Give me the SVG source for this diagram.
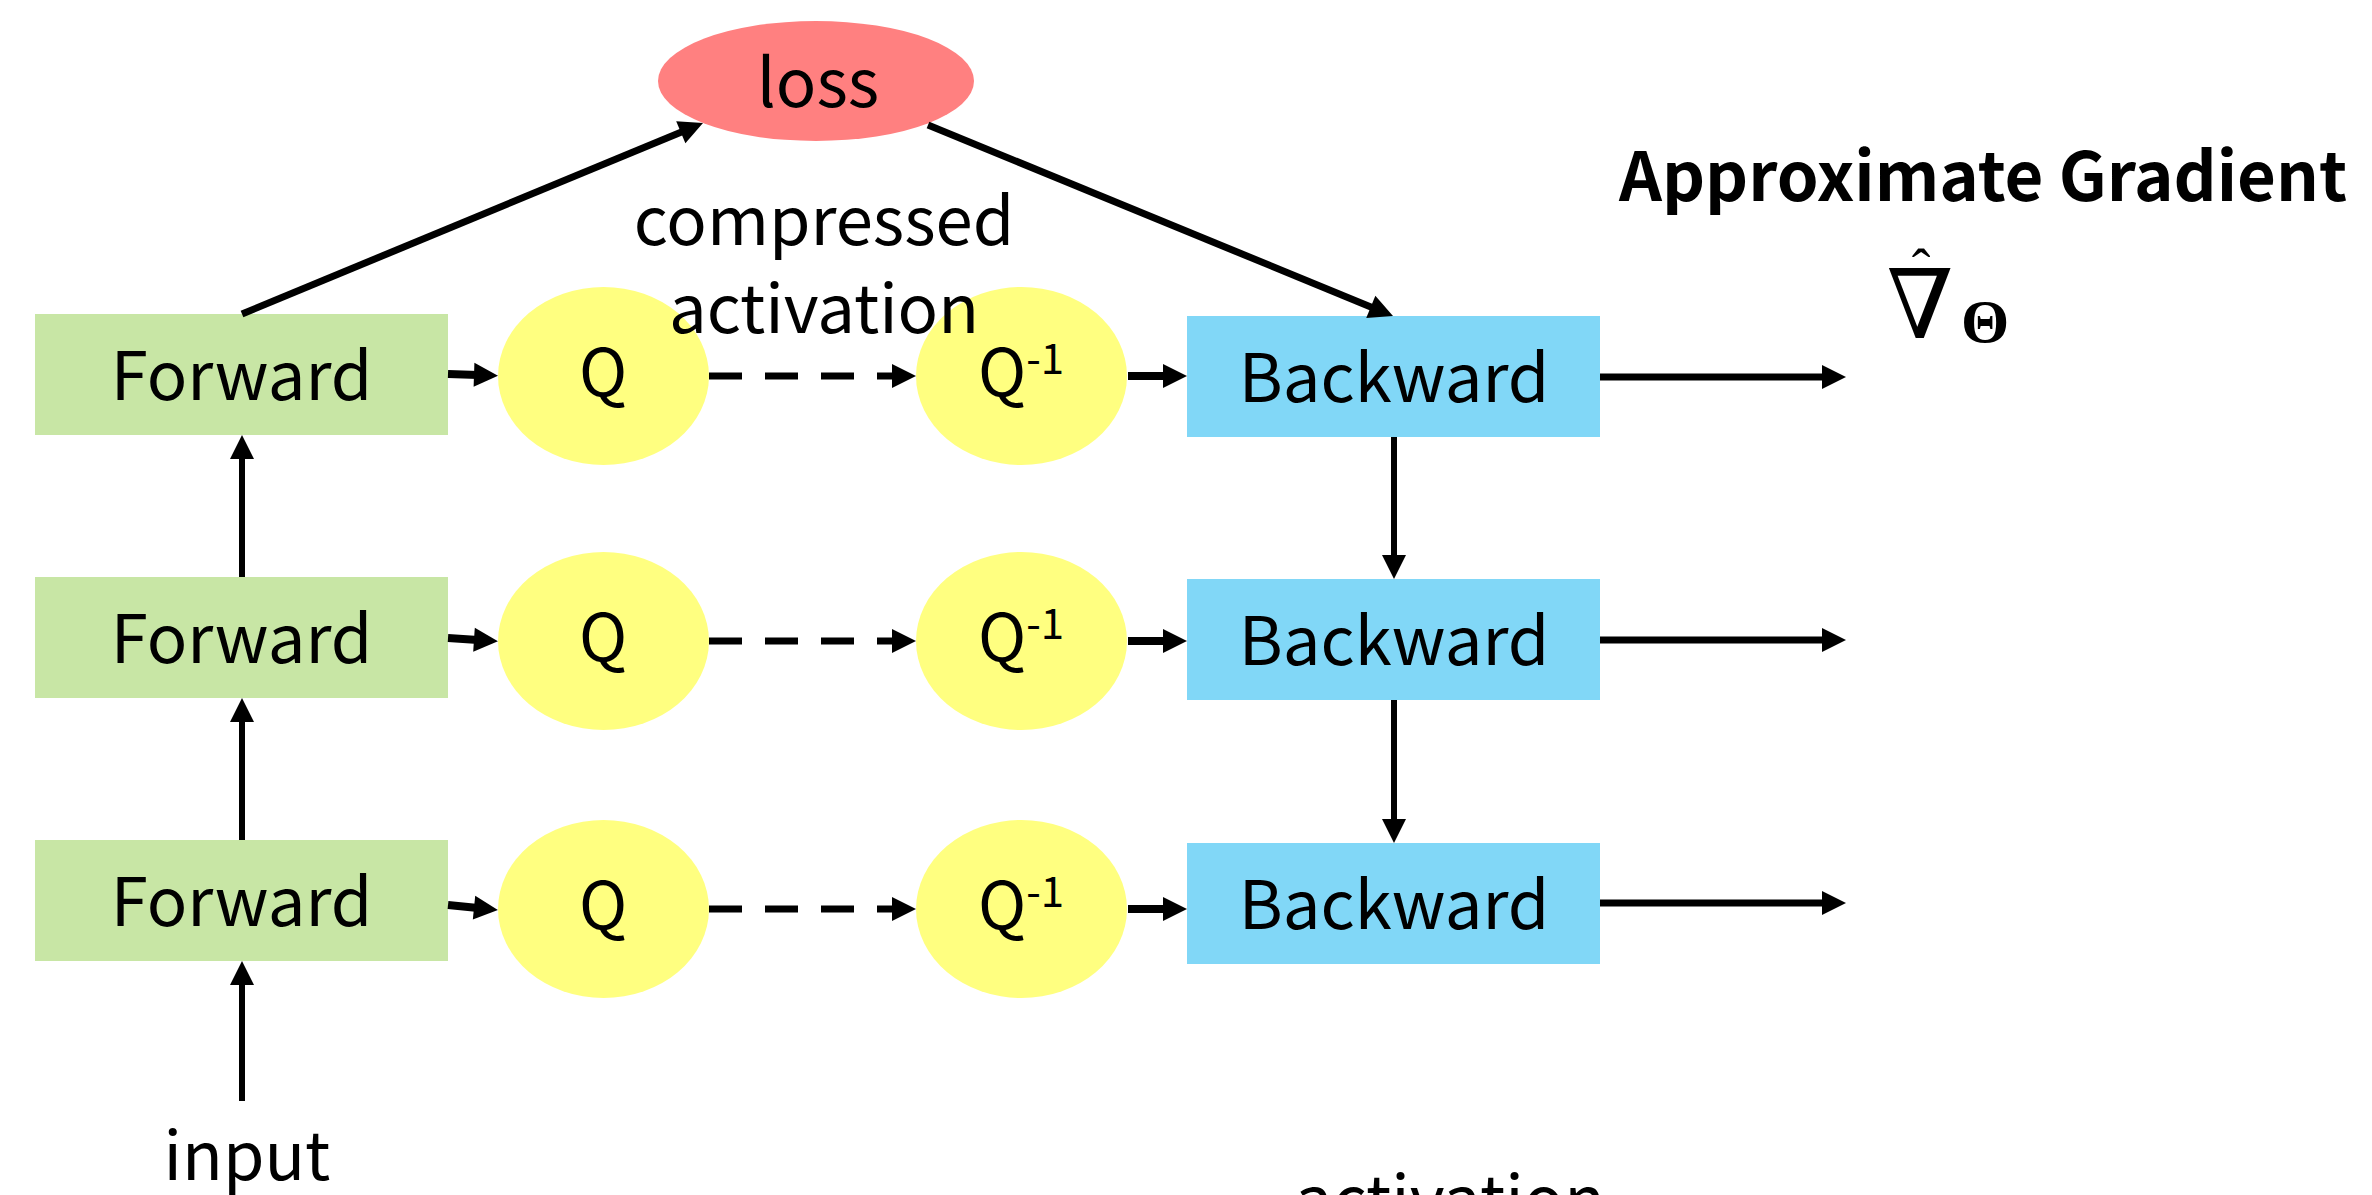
<svg xmlns="http://www.w3.org/2000/svg" width="2372" height="1195" viewBox="0 0 2372 1195">
<style>
.t{font-family:"Noto Sans CJK SC","Noto Sans",sans-serif;font-size:67px;fill:#000;text-anchor:middle}
.qt{font-size:65px}
.fwd{fill:#C8E6A5}
.bwd{fill:#81D7F7}
.q{fill:#FFFF80}
.loss{fill:#FF8080}
.ln{stroke:#000;fill:none}
</style>
<defs>
<marker id="ah" markerUnits="userSpaceOnUse" markerWidth="24" markerHeight="24" refX="4" refY="12" orient="auto" overflow="visible">
<path d="M0,0 L24,12 L0,24 z" fill="#000"/>
</marker>
</defs>
<rect width="2372" height="1195" fill="#fff"/>

<g id="loss"><ellipse class="loss" cx="816" cy="81" rx="158" ry="60"/><text class="t" x="818" y="107">loss</text></g>

<g id="forward1"><rect class="fwd" x="35" y="314" width="413" height="121"/><text class="t" x="241.5" y="400">Forward</text></g>
<g id="forward2"><rect class="fwd" x="35" y="577" width="413" height="121"/><text class="t" x="241.5" y="663">Forward</text></g>
<g id="forward3"><rect class="fwd" x="35" y="840" width="413" height="121"/><text class="t" x="241.5" y="926">Forward</text></g>

<g id="q1"><ellipse class="q" cx="603.5" cy="376" rx="105.5" ry="89"/><text class="t qt" x="603" y="396">Q</text></g>
<g id="q2"><ellipse class="q" cx="603.5" cy="641" rx="105.5" ry="89"/><text class="t qt" x="603" y="661">Q</text></g>
<g id="q3"><ellipse class="q" cx="603.5" cy="909" rx="105.5" ry="89"/><text class="t qt" x="603" y="929">Q</text></g>

<g id="qinv1"><ellipse class="q" cx="1021.5" cy="376" rx="105.5" ry="89"/><text class="t qt" x="1021" y="396">Q<tspan font-size="42" dy="-22">-1</tspan></text></g>
<g id="qinv2"><ellipse class="q" cx="1021.5" cy="641" rx="105.5" ry="89"/><text class="t qt" x="1021" y="661">Q<tspan font-size="42" dy="-22">-1</tspan></text></g>
<g id="qinv3"><ellipse class="q" cx="1021.5" cy="909" rx="105.5" ry="89"/><text class="t qt" x="1021" y="929">Q<tspan font-size="42" dy="-22">-1</tspan></text></g>

<g id="backward1"><rect class="bwd" x="1187" y="316" width="413" height="121"/><text class="t" x="1394" y="402">Backward</text></g>
<g id="backward2"><rect class="bwd" x="1187" y="579" width="413" height="121"/><text class="t" x="1394" y="665">Backward</text></g>
<g id="backward3"><rect class="bwd" x="1187" y="843" width="413" height="121"/><text class="t" x="1394" y="929">Backward</text></g>

<g id="connectors">
<line class="ln" stroke-width="7" x1="242" y1="314" x2="684.5" y2="130.7" marker-end="url(#ah)"/>
<line class="ln" stroke-width="7" x1="928" y1="125" x2="1374.5" y2="308.4" marker-end="url(#ah)"/>

<line class="ln" stroke-width="8" x1="448" y1="374" x2="478" y2="375" marker-end="url(#ah)"/>
<line class="ln" stroke-width="8" x1="448" y1="638" x2="478" y2="640" marker-end="url(#ah)"/>
<line class="ln" stroke-width="8" x1="448" y1="905" x2="478" y2="908" marker-end="url(#ah)"/>

<line class="ln" stroke-width="7" stroke-dasharray="33 23" x1="709" y1="376" x2="896" y2="376" marker-end="url(#ah)"/>
<line class="ln" stroke-width="7" stroke-dasharray="33 23" x1="709" y1="641" x2="896" y2="641" marker-end="url(#ah)"/>
<line class="ln" stroke-width="7" stroke-dasharray="33 23" x1="709" y1="909" x2="896" y2="909" marker-end="url(#ah)"/>

<line class="ln" stroke-width="8" x1="1128" y1="376" x2="1167" y2="376" marker-end="url(#ah)"/>
<line class="ln" stroke-width="8" x1="1128" y1="641" x2="1167" y2="641" marker-end="url(#ah)"/>
<line class="ln" stroke-width="8" x1="1128" y1="909" x2="1167" y2="909" marker-end="url(#ah)"/>

<line class="ln" stroke-width="7" x1="1600" y1="377" x2="1826" y2="377" marker-end="url(#ah)"/>
<line class="ln" stroke-width="7" x1="1600" y1="640" x2="1826" y2="640" marker-end="url(#ah)"/>
<line class="ln" stroke-width="7" x1="1600" y1="903" x2="1826" y2="903" marker-end="url(#ah)"/>

<line class="ln" stroke-width="6" x1="242" y1="1101" x2="242" y2="981" marker-end="url(#ah)"/>
<line class="ln" stroke-width="6" x1="242" y1="840" x2="242" y2="718" marker-end="url(#ah)"/>
<line class="ln" stroke-width="6" x1="242" y1="577" x2="242" y2="455" marker-end="url(#ah)"/>

<line class="ln" stroke-width="6" x1="1394" y1="437" x2="1394" y2="559" marker-end="url(#ah)"/>
<line class="ln" stroke-width="6" x1="1394" y1="700" x2="1394" y2="823" marker-end="url(#ah)"/>
</g>

<text class="t" x="824" y="245">compressed</text>
<text class="t" x="824" y="333">activation</text>
<text class="t" x="247" y="1180">input</text>
<text class="t" x="1450" y="1224">activation</text>
<text x="1619" y="201" style="font-family:'Noto Sans CJK SC','Noto Sans',sans-serif;font-weight:bold;font-size:67px">Approximate Gradient</text>
<text x="1920" y="338" style="font-family:'Liberation Serif','DejaVu Serif',serif;font-size:96px;text-anchor:middle">∇</text>
<text x="1921" y="288" style="font-family:'Liberation Serif','DejaVu Serif',serif;font-size:56px;text-anchor:middle">ˆ</text>
<text x="1985" y="342" style="font-family:'Liberation Serif','DejaVu Serif',serif;font-weight:bold;font-size:62px;text-anchor:middle">Θ</text>
</svg>
